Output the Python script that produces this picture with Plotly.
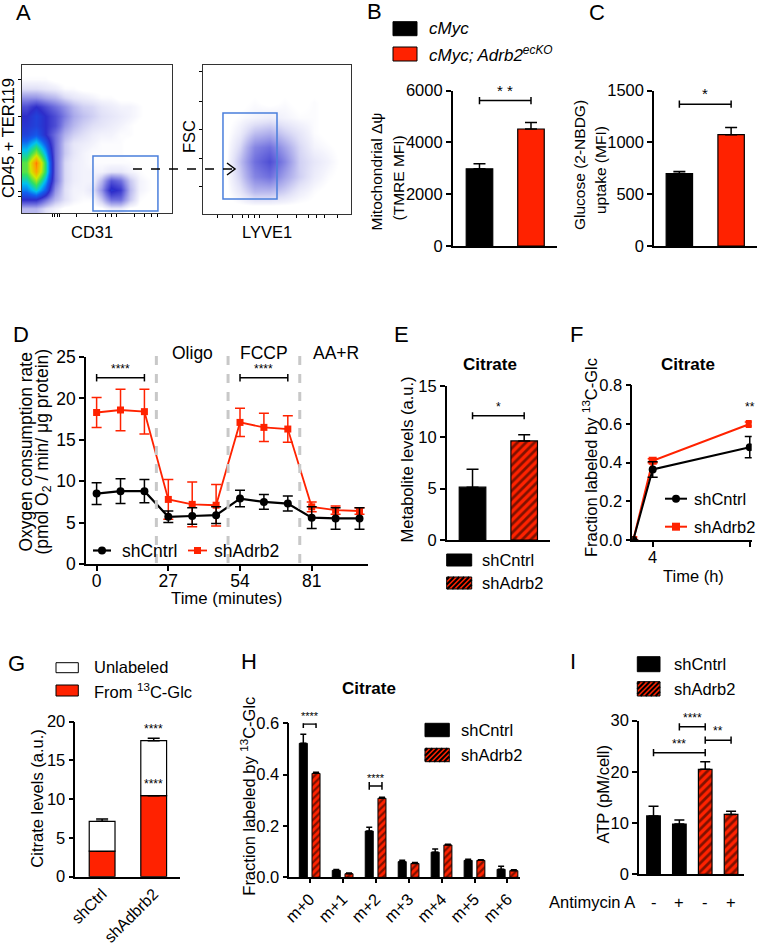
import plotly.graph_objects as go

W, H = 758, 945
RED = '#ff2200'
FONT = 'Liberation Sans, Arial, sans-serif'

# ---------------- data ----------------
# A: dot-plot density read by eye on a coarse grid (rows bottom -> top)
cd31_density = [
    [1, 1, 0.5, 0.2, 0, 0, 0, 0, 0, 0.3, 0.3, 0, 0, 0, 0, 0],
    [3, 3, 2, 1, 0.5, 0.2, 0.1, 0.1, 0.8, 2, 2, 0.8, 0.1, 0, 0, 0],
    [4.5, 5.5, 4, 1.5, 0.5, 0.2, 0.2, 0.4, 1.5, 3.2, 2.8, 1, 0.2, 0.1, 0, 0],
    [5.5, 7, 5, 2, 0.6, 0.3, 0.2, 0.2, 1, 2.4, 2, 0.8, 0.2, 0.1, 0, 0],
    [6.5, 8.5, 6, 2, 0.6, 0.3, 0.2, 0.2, 0.2, 0.4, 0.4, 0.2, 0.1, 0, 0, 0],
    [6.5, 9, 6, 2, 0.6, 0.3, 0.2, 0.1, 0.1, 0.1, 0.1, 0.1, 0, 0, 0, 0],
    [5.5, 7, 5, 2, 0.8, 0.4, 0.2, 0.1, 0.1, 0.1, 0.1, 0, 0, 0, 0, 0],
    [4.5, 5.5, 4, 2, 0.8, 0.4, 0.3, 0.2, 0.1, 0.1, 0.1, 0, 0, 0, 0, 0],
    [3.5, 4, 3, 2, 1.1, 0.7, 0.5, 0.3, 0.2, 0.2, 0.1, 0.1, 0, 0, 0, 0],
    [3.2, 3.5, 3, 2.5, 1.5, 1, 0.7, 0.5, 0.4, 0.3, 0.2, 0.1, 0, 0, 0, 0],
    [3, 3.5, 3, 2.5, 1.8, 1.2, 0.9, 0.7, 0.5, 0.4, 0.3, 0.2, 0.1, 0, 0, 0],
    [2.5, 3, 2.5, 2, 1.5, 1, 0.7, 0.6, 0.4, 0.3, 0.2, 0.2, 0.1, 0, 0, 0],
    [1.5, 1.5, 1.2, 1, 0.6, 0.4, 0.3, 0.2, 0.1, 0.1, 0, 0, 0, 0, 0, 0],
    [0.5, 0.5, 0.4, 0.3, 0.1, 0.1, 0, 0, 0, 0, 0, 0, 0, 0, 0, 0],
    [0.1, 0.1, 0.1, 0, 0, 0, 0, 0, 0, 0, 0, 0, 0, 0, 0, 0],
    [0, 0, 0, 0, 0, 0, 0, 0, 0, 0, 0, 0, 0, 0, 0, 0],
]
lyve1_density = [
    [0, 0, 0, 0, 0, 0, 0, 0, 0, 0],
    [0, 0, 0.4, 1.0, 1.0, 0.7, 0.3, 0.1, 0, 0],
    [0, 0, 0.7, 1.7, 2.0, 1.3, 0.7, 0.3, 0.1, 0],
    [0, 0, 0.9, 2.0, 2.5, 1.7, 0.7, 0.4, 0.2, 0],
    [0, 0, 0.6, 1.7, 2.0, 1.3, 0.6, 0.2, 0.1, 0],
    [0, 0, 0.3, 0.9, 1.1, 0.7, 0.4, 0.1, 0, 0],
    [0, 0, 0.1, 0.2, 0.3, 0.2, 0.1, 0.1, 0, 0],
    [0, 0, 0, 0.1, 0, 0.1, 0, 0.1, 0, 0],
    [0, 0, 0, 0, 0, 0, 0, 0, 0, 0],
    [0, 0, 0, 0, 0, 0, 0, 0, 0, 0],
]

# B / C
b_tmre = [2980, 4520]
b_tmre_sem = [200, 250]
c_glucose = [700, 1075]
c_glucose_sem = [20, 70]

# D: seahorse
d_time = [0, 9, 18, 27, 36, 45, 54, 63, 72, 81, 90, 99]
d_ctrl = [8.5, 8.8, 8.8, 5.7, 5.8, 5.9, 7.9, 7.5, 7.3, 5.6, 5.5, 5.5]
d_ctrl_err = [1.3, 1.5, 1.4, 0.7, 1.0, 1.0, 1.0, 0.9, 0.9, 1.3, 1.3, 1.3]
d_kd = [18.3, 18.6, 18.4, 7.8, 7.2, 7.1, 17.1, 16.5, 16.3, 6.9, 6.5, 6.4]
d_kd_err = [1.8, 2.5, 2.7, 2.4, 2.7, 2.5, 1.7, 1.7, 1.6, 0.6, 0.5, 0.4]
d_phase_bounds = [22.5, 49.5, 76.5]
d_phase_names = ['Oligo', 'FCCP', 'AA+R']
d_phase_mid = [36, 63, 90]

# E
e_citrate = [5.15, 9.65]
e_citrate_sem = [1.75, 0.6]

# F
f_time = [0, 4, 24]
f_ctrl = [0, 0.365, 0.48]
f_ctrl_err = [0, 0.04, 0.055]
f_kd = [0, 0.41, 0.6]
f_kd_err = [0, 0.01, 0.01]

# G
g_groups = ['shCtrl', 'shAdbrb2']
g_labeled = [3.3, 10.45]
g_labeled_err = [0.45, 0.38]
g_unlabeled = [3.85, 7.1]
g_total_err = [0.3, 0.3]

# H
h_iso = ['m+0', 'm+1', 'm+2', 'm+3', 'm+4', 'm+5', 'm+6']
h_ctrl = [0.522, 0.027, 0.18, 0.061, 0.098, 0.066, 0.031]
h_ctrl_err = [0.035, 0.003, 0.015, 0.005, 0.012, 0.004, 0.012]
h_kd = [0.405, 0.014, 0.308, 0.054, 0.126, 0.066, 0.026]
h_kd_err = [0.004, 0.003, 0.004, 0.004, 0.003, 0.002, 0.003]

# I
i_atp_ctrl = [11.4, 9.8]
i_atp_ctrl_sem = [1.9, 0.8]
i_atp_kd = [20.5, 11.7]
i_atp_kd_sem = [1.5, 0.6]
i_antimycin = ['-', '+', '-', '+']

# significance brackets: (x0, x1, y, label)
b_sig = [(0, 1, 5620, '* *')]
c_sig = [(0, 1, 1370, '*')]
d_sig = [(0, 18, 22.5, '****'), (54, 72, 22.5, '****')]
e_sig = [(0, 1, 12.1, '*')]
h_sig = [(-0.193, 0.193, 0.597, '****'), (1.807, 2.193, 0.356, '****')]
i_sig = [(1, 2, 28.8, '****'), (2, 3, 26.2, '**'), (0, 2, 23.75, '***')]


def X(px):
    return px / W


def Y(py):
    return 1 - py / H


fig = go.Figure()
shapes = []
annos = []

AX = dict(showline=True, linecolor='black', linewidth=1.5, ticks='outside',
          ticklen=5, tickwidth=1.5, tickcolor='black', showgrid=False,
          zeroline=False, automargin=False, tickfont=dict(size=16.5))

HATCH = dict(shape='/', fgcolor='black', bgcolor=RED, fillmode='overlay', size=6, solidity=0.45)


def axes(n, x0, x1, top, bottom, xr, yr, xkw=None, ykw=None):
    sx = '' if n == 1 else str(n)
    xa = dict(AX, domain=[X(x0), X(x1)], range=xr, anchor='y' + sx)
    ya = dict(AX, domain=[Y(bottom), Y(top)], range=yr, anchor='x' + sx)
    xa.update(xkw or {})
    ya.update(ykw or {})
    fig.update_layout(**{'xaxis' + sx: xa, 'yaxis' + sx: ya})


def txt(x, y, s, size=16.5, xref='paper', yref='paper', **kw):
    d = dict(x=x, y=y, text=s, xref=xref, yref=yref, showarrow=False,
             xanchor='center', yanchor='middle',
             font=dict(size=size, color='black', family=FONT))
    d.update(kw)
    annos.append(d)


def rect(x0, y0, x1, y1, fill, lw=1):
    shapes.append(dict(type='rect', xref='paper', yref='paper',
                       x0=X(x0), x1=X(x1), y0=Y(y1), y1=Y(y0),
                       fillcolor=fill, line=dict(color='black', width=lw)))


def hatched(x0, y0, x1, y1, step=5):
    rect(x0, y0, x1, y1, RED)
    segs = []
    c = x0 + y0 + step / 2
    while c < x1 + y1:
        xa = max(x0, c - y1)
        xb = min(x1, c - y0)
        if xb > xa:
            segs.append('M%.5f,%.5f L%.5f,%.5f' % (X(xa), Y(c - xa), X(xb), Y(c - xb)))
        c += step
    shapes.append(dict(type='path', xref='paper', yref='paper', path=' '.join(segs),
                       line=dict(color='black', width=2)))


def brackets(n, sigs, cap, size=12):
    sx = '' if n == 1 else str(n)
    for x0, x1, y, lab in sigs:
        for a, b, c, d in [(x0, y, x1, y), (x0, y - cap, x0, y + cap), (x1, y - cap, x1, y + cap)]:
            shapes.append(dict(type='line', xref='x' + sx, yref='y' + sx, x0=a, y0=b, x1=c, y1=d,
                               line=dict(color='black', width=1.5)))
        txt((x0 + x1) / 2, y, lab, size=size, xref='x' + sx, yref='y' + sx, yanchor='bottom')


def err(arr, up_only=True, width=6):
    e = dict(type='data', array=arr, color='black', thickness=1.5, width=width, visible=True)
    if up_only:
        e.update(symmetric=False, arrayminus=[0] * len(arr))
    return e


# ---------------- A: flow plots ----------------
FLOW_CS = [[0, '#ffffff'], [0.006, '#ffffff'], [0.02, '#f3f3fc'], [0.05, '#e0e0f7'],
           [0.1, '#b8b8ee'], [0.2, '#6f6fde'], [0.3, '#2d2dca'], [0.42, '#1060f0'],
           [0.52, '#00c0f0'], [0.62, '#30e060'], [0.74, '#d0e800'], [0.86, '#ffa000'],
           [1.0, '#ff2000']]
fig.add_trace(go.Heatmap(z=cd31_density, colorscale=FLOW_CS, zmin=0, zmax=10, zsmooth='best',
                         showscale=False, hoverinfo='skip', xaxis='x', yaxis='y'))
fig.add_trace(go.Heatmap(z=lyve1_density, colorscale=FLOW_CS, zmin=0, zmax=10, zsmooth='best',
                         showscale=False, hoverinfo='skip', xaxis='x2', yaxis='y2'))
flow_ax = dict(mirror=True, linewidth=1, linecolor='#333', showticklabels=False, ticklen=3, tickwidth=1)
axes(1, 22, 172, 65, 213, [-0.5, 15.5], [-0.5, 15.5],
     dict(flow_ax, tickvals=[2.7, 3.0, 3.3, 3.5, 5.3, 7.5, 8.4, 9.0, 9.6, 11.5, 12.6, 13.3, 13.9]),
     dict(flow_ax, tickvals=[1.26, 1.8, 5.9, 9.9, 13.9]))
axes(2, 203, 351, 65, 214, [-0.5, 9.5], [-0.5, 9.5],
     dict(flow_ax, tickvals=[0.5, 1.5, 2.2, 2.6, 3.0, 3.3, 4.5, 5.8, 6.6, 7.2, 7.7, 8.6]),
     dict(flow_ax, tickvals=[1.33, 3.24, 5.14, 7.03, 9.05]))
gate = dict(color='#4a7fdc', width=1.5)
shapes.append(dict(type='rect', xref='x', yref='y', x0=7.07, x1=14.0, y0=-0.28, y1=5.66, line=gate))
shapes.append(dict(type='rect', xref='x2', yref='y2', x0=0.85, x1=4.5, y0=0.5, y1=6.28, line=gate))
shapes.append(dict(type='line', xref='paper', yref='paper', x0=X(133), x1=X(234), y0=Y(169), y1=Y(169),
                   line=dict(color='black', width=1.5, dash='dash')))
shapes.append(dict(type='path', xref='paper', yref='paper',
                   path='M%.5f,%.5f L%.5f,%.5f L%.5f,%.5f' % (X(227), Y(163), X(235), Y(169), X(227), Y(175)),
                   line=dict(color='black', width=1.5)))
txt(X(8), Y(138), 'CD45 + TER119', textangle=-90)
txt(X(92), Y(232), 'CD31')
txt(X(189), Y(137), 'FSC', textangle=-90)
txt(X(267), Y(232), 'LYVE1')

# ---------------- B ----------------
fig.add_trace(go.Bar(x=[0, 1], y=b_tmre, width=0.515, xaxis='x3', yaxis='y3',
                     marker=dict(color=['black', RED], line=dict(color='black', width=1.2)),
                     error_y=err(b_tmre_sem)))
axes(3, 452.7, 557, 90.7, 246, [-0.52, 1.505], [0, 6000],
     dict(ticks='', showticklabels=False), dict(tickvals=[0, 2000, 4000, 6000]))
brackets(3, b_sig, 140, size=15)
rect(393, 21.7, 417, 35.7, 'black')
rect(393, 47, 417, 61, RED)
txt(X(427), Y(29), '<i>cMyc</i>', size=17, xanchor='left')
txt(X(427), Y(54), '<i>cMyc; Adrb2<sup>ecKO</sup></i>', size=17, xanchor='left')
txt(X(376.5), Y(172), 'Mitochondrial Δψ', size=15.5, textangle=-90)
txt(X(397.5), Y(178), '(TMRE MFI)', size=15.5, textangle=-90)

# ---------------- C ----------------
fig.add_trace(go.Bar(x=[0, 1], y=c_glucose, width=0.51, xaxis='x4', yaxis='y4',
                     marker=dict(color=['black', RED], line=dict(color='black', width=1.2)),
                     error_y=err(c_glucose_sem)))
axes(4, 654, 757, 90.7, 246, [-0.49, 1.5], [0, 1500],
     dict(ticks='', showticklabels=False), dict(tickvals=[0, 500, 1000, 1500]))
brackets(4, c_sig, 35, size=15)
txt(X(579), Y(165), 'Glucose (2-NBDG)', size=15.5, textangle=-90)
txt(X(600), Y(170), 'uptake (MFI)', size=15.5, textangle=-90)

# ---------------- D ----------------
for xb in d_phase_bounds:
    shapes.append(dict(type='line', xref='x5', yref='paper', x0=xb, x1=xb, y0=Y(563), y1=Y(347),
                       line=dict(color='#c8c8c8', width=3, dash='dash')))
fig.add_trace(go.Scatter(x=d_time, y=d_kd, mode='lines+markers', xaxis='x5', yaxis='y5',
                         line=dict(color=RED, width=1.8), marker=dict(symbol='square', size=7, color=RED),
                         error_y=dict(type='data', array=d_kd_err, color=RED, thickness=1.5, width=5)))
fig.add_trace(go.Scatter(x=d_time, y=d_ctrl, mode='lines+markers', xaxis='x5', yaxis='y5',
                         line=dict(color='black', width=2.2), marker=dict(size=8, color='black'),
                         error_y=dict(type='data', array=d_ctrl_err, color='black', thickness=1.5, width=5)))
axes(5, 86, 368, 357, 564, [-4, 102.2], [0, 25],
     dict(tickvals=[0, 27, 54, 81], tickfont=dict(size=17.5), ticklabelstandoff=-5),
     dict(tickvals=[0, 5, 10, 15, 20, 25], tickfont=dict(size=17.5)))
brackets(5, d_sig, 0.45)
for name, xm in zip(d_phase_names, d_phase_mid):
    txt(xm, Y(352.7), name, size=17.5, xref='x5')
txt(X(25.5), Y(452), 'Oxygen consumption rate', size=17.5, textangle=-90)
txt(X(43.5), Y(452), '(pmol O<sub>2</sub> / min/ μg protein)', size=17.5, textangle=-90)
txt(X(226), Y(598), 'Time (minutes)', size=16.8)
shapes.append(dict(type='line', xref='paper', yref='paper', x0=X(93), x1=X(111), y0=Y(550.5), y1=Y(550.5),
                   line=dict(color='black', width=2.2)))
shapes.append(dict(type='circle', xref='paper', yref='paper', x0=X(98), x1=X(106), y0=Y(554.5), y1=Y(546.5),
                   fillcolor='black', line=dict(color='black', width=0)))
txt(X(120), Y(550.5), 'shCntrl', size=17.5, xanchor='left')
shapes.append(dict(type='line', xref='paper', yref='paper', x0=X(188), x1=X(207), y0=Y(550.5), y1=Y(550.5),
                   line=dict(color=RED, width=1.8)))
rect(194, 547, 201, 554, RED, lw=0)
txt(X(212), Y(550.5), 'shAdrb2', size=17.5, xanchor='left')

# ---------------- E ----------------
fig.add_trace(go.Bar(x=[0], y=e_citrate[:1], width=0.515, xaxis='x6', yaxis='y6',
                     marker=dict(color='black', line=dict(color='black', width=1.2)),
                     error_y=err(e_citrate_sem[:1])))
fig.add_trace(go.Bar(x=[1], y=e_citrate[1:], width=0.515, xaxis='x6', yaxis='y6',
                     marker=dict(color=RED, line=dict(color='black', width=1.2), pattern=HATCH),
                     error_y=err(e_citrate_sem[1:])))
axes(6, 446.7, 550, 386, 540, [-0.5, 1.5], [0, 15],
     dict(ticks='', showticklabels=False), dict(tickvals=[0, 5, 10, 15]))
brackets(6, e_sig, 0.35)
txt(X(490), Y(364), '<b>Citrate</b>', size=17)
txt(X(406.5), Y(460), 'Metabolite levels (a.u.)', size=16.5, textangle=-90)
rect(446.7, 554, 471.7, 566, 'black')
txt(X(480), Y(560), 'shCntrl', size=16.5, xanchor='left')
hatched(446.7, 577, 471.7, 589)
txt(X(480), Y(583), 'shAdrb2', size=16.5, xanchor='left')

# ---------------- F ----------------
fig.add_trace(go.Scatter(x=f_time, y=f_kd, mode='lines+markers', xaxis='x7', yaxis='y7',
                         line=dict(color=RED, width=2), marker=dict(symbol='square', size=8, color=RED),
                         error_y=dict(type='data', array=f_kd_err, color=RED, thickness=1.5, width=5)))
fig.add_trace(go.Scatter(x=f_time, y=f_ctrl, mode='lines+markers', xaxis='x7', yaxis='y7',
                         line=dict(color='black', width=2), marker=dict(size=8, color='black'),
                         error_y=dict(type='data', array=f_ctrl_err, color='black', thickness=1.5, width=5)))
axes(7, 632.3, 751.7, 385.3, 540, [-0.2, 24.4], [0, 0.8],
     dict(tickvals=[4, 24], ticklabelstandoff=-4),
     dict(tickvals=[0, 0.2, 0.4, 0.6, 0.8], tickformat='.1f'))
txt(f_time[2], f_kd[2] + 0.04, '**', size=12, xref='x7', yref='y7', yanchor='bottom')
txt(X(688), Y(364), '<b>Citrate</b>', size=17)
txt(X(590), Y(458), 'Fraction labeled by <sup>13</sup>C-Glc', size=16.5, textangle=-90)
txt(X(693), Y(576), 'Time (h)', size=16.5)
shapes.append(dict(type='line', xref='paper', yref='paper', x0=X(665), x1=X(687), y0=Y(498.7), y1=Y(498.7),
                   line=dict(color='black', width=2)))
shapes.append(dict(type='circle', xref='paper', yref='paper', x0=X(672), x1=X(680), y0=Y(502.7), y1=Y(494.7),
                   fillcolor='black', line=dict(color='black', width=0)))
txt(X(691.7), Y(498.7), 'shCntrl', size=16.5, xanchor='left')
shapes.append(dict(type='line', xref='paper', yref='paper', x0=X(665), x1=X(687), y0=Y(526.7), y1=Y(526.7),
                   line=dict(color=RED, width=2)))
rect(672, 522.7, 680, 530.7, RED, lw=0)
txt(X(691.7), Y(526.7), 'shAdrb2', size=16.5, xanchor='left')

# ---------------- G ----------------
fig.add_trace(go.Bar(x=[0, 1], y=g_labeled, width=0.5, xaxis='x8', yaxis='y8',
                     marker=dict(color=RED, line=dict(color='black', width=1.2)),
                     error_y=err(g_labeled_err)))
fig.add_trace(go.Bar(x=[0, 1], y=g_unlabeled, base=g_labeled, width=0.5, xaxis='x8', yaxis='y8',
                     marker=dict(color='white', line=dict(color='black', width=1.2)),
                     error_y=err(g_total_err)))
axes(8, 75.3, 180, 721.7, 876.7, [-0.52, 1.51], [0, 20],
     dict(ticks='', tickvals=[0, 1], ticktext=g_groups, tickangle=-45, tickfont=dict(size=16)),
     dict(tickvals=[0, 5, 10, 15, 20]))
txt(1, g_labeled[1] + g_labeled_err[1], '****', size=12, xref='x8', yref='y8', yanchor='bottom')
txt(1, g_labeled[1] + g_unlabeled[1] + g_total_err[1], '****', size=12, xref='x8', yref='y8',
    yanchor='bottom')
rect(56, 662.7, 78.3, 672.7, 'white')
rect(56, 685, 78.3, 696, RED)
txt(X(91.7), Y(666.5), 'Unlabeled', size=16.5, xanchor='left')
txt(X(91.7), Y(690.5), 'From <sup>13</sup>C-Glc', size=16.5, xanchor='left')
txt(X(36.7), Y(799), 'Citrate levels (a.u.)', size=16.5, textangle=-90)

# ---------------- H ----------------
h_pos = list(range(len(h_iso)))
fig.add_trace(go.Bar(x=[p - 0.193 for p in h_pos], y=h_ctrl, width=0.243, xaxis='x9', yaxis='y9',
                     marker=dict(color='black', line=dict(color='black', width=1)),
                     error_y=err(h_ctrl_err, width=3)))
fig.add_trace(go.Bar(x=[p + 0.193 for p in h_pos], y=h_kd, width=0.243, xaxis='x9', yaxis='y9',
                     marker=dict(color=RED, line=dict(color='black', width=1), pattern=dict(HATCH, size=5)),
                     error_y=err(h_kd_err, width=3)))
axes(9, 289.3, 520, 723.3, 877.3, [-0.618, 6.38], [0, 0.6],
     dict(tickvals=h_pos, ticktext=h_iso, tickangle=-45, ticklen=4),
     dict(tickvals=[0, 0.2, 0.4, 0.6], tickformat='.1f'))
brackets(9, h_sig, 0.015, size=11)
txt(X(369), Y(688.3), '<b>Citrate</b>', size=17)
txt(X(248), Y(796.7), 'Fraction labeled by <sup>13</sup>C-Glc', size=16.5, textangle=-90)
rect(425, 723.3, 449.3, 736.7, 'black')
txt(X(459), Y(730), 'shCntrl', size=16.5, xanchor='left')
hatched(425, 748.3, 449.3, 761.7)
txt(X(459), Y(755), 'shAdrb2', size=16.5, xanchor='left')

# ---------------- I ----------------
fig.add_trace(go.Bar(x=[0, 1], y=i_atp_ctrl, width=0.527, xaxis='x10', yaxis='y10',
                     marker=dict(color='black', line=dict(color='black', width=1.2)),
                     error_y=err(i_atp_ctrl_sem, width=5)))
fig.add_trace(go.Bar(x=[2, 3], y=i_atp_kd, width=0.527, xaxis='x10', yaxis='y10',
                     marker=dict(color=RED, line=dict(color='black', width=1.2), pattern=HATCH),
                     error_y=err(i_atp_kd_sem, width=5)))
axes(10, 639, 744, 720.7, 874.3, [-0.561, 3.5], [0, 30],
     dict(ticks='', showticklabels=False), dict(tickvals=[0, 10, 20, 30]))
brackets(10, i_sig, 0.7)
for k, s in enumerate(i_antimycin):
    txt(k, Y(901.7), s, size=16.5, xref='x10')
txt(X(637), Y(901.7), 'Antimycin A', size=16.5, xanchor='right')
txt(X(602.5), Y(795), 'ATP (pM/cell)', size=16.5, textangle=-90)
rect(637.3, 656.7, 660, 671.7, 'black')
txt(X(671.7), Y(664), 'shCntrl', size=16.5, xanchor='left')
hatched(637.3, 681.7, 660, 696)
txt(X(671.7), Y(689), 'shAdrb2', size=16.5, xanchor='left')

# ---------------- panel letters ----------------
for lab, x, y in [('A', 23, 12.5), ('B', 374, 11), ('C', 597, 12.5), ('D', 20.5, 334),
                  ('E', 401, 334), ('F', 576.5, 334), ('G', 16, 663), ('H', 249, 661.7),
                  ('I', 572.5, 661.7)]:
    txt(X(x), Y(y), lab, size=22)

fig.update_layout(template='none', width=W, height=H, margin=dict(l=0, r=0, t=0, b=0, pad=0),
                  plot_bgcolor='white', paper_bgcolor='white', showlegend=False,
                  barmode='overlay', font=dict(family=FONT, size=16.5, color='black'),
                  shapes=shapes, annotations=annos)

# the page body has a default 8px margin; drop it so the figure sits at the window corner
fig.write_html("out.html", config={'displayModeBar': False},
               post_script="document.body.style.margin='0px';")
